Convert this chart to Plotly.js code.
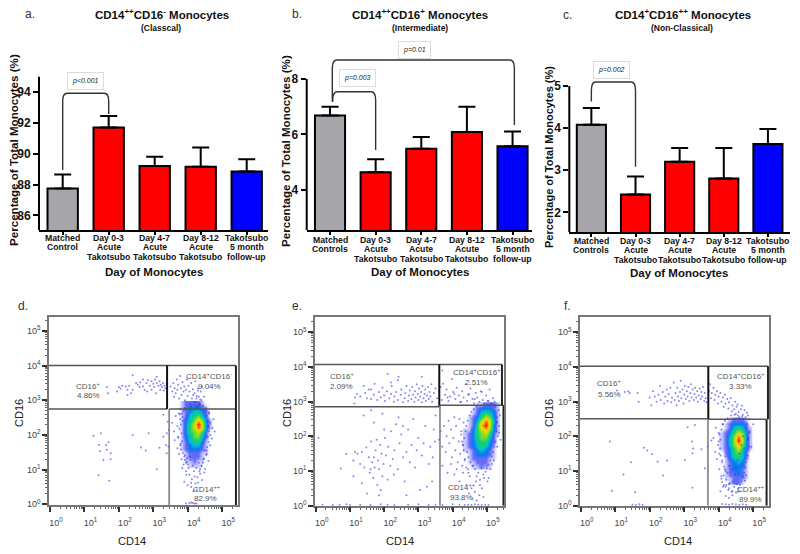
<!DOCTYPE html>
<html>
<head>
<meta charset="utf-8">
<script src="https://cdn.plot.ly/plotly-3.0.1.min.js"></script>
<style>body{margin:0;background:#fff}</style>
</head>
<body>
<div id="chart" style="width:800px;height:554px"></div>
<script>
// bar values and upper error lengths
const aValues = [87.75, 91.7, 89.2, 89.15, 88.85];
const aErrors = [0.9, 0.75, 0.6, 1.25, 0.8];
const bValues = [6.68, 4.63, 5.48, 6.08, 5.57];
const bErrors = [0.32, 0.47, 0.42, 0.92, 0.53];
const cValues = [4.08, 2.42, 3.2, 2.8, 3.62];
const cErrors = [0.4, 0.43, 0.33, 0.73, 0.36];
const barColors = ['#a5a5aa', '#ff0000', '#ff0000', '#ff0000', '#0000ff'];

const aCategories = [['Matched', 'Control'], ['Day 0-3', 'Acute', 'Takotsubo'], ['Day 4-7', 'Acute', 'Takotsubo'], ['Day 8-12', 'Acute', 'Takotsubo'], ['Takotsubo', '5 month', 'follow-up']];
const bCategories = [['Matched', 'Controls'], ['Day 0-3', 'Acute', 'Takotsubo'], ['Day 4-7', 'Acute', 'Takotsubo'], ['Day 8-12', 'Acute', 'Takotsubo'], ['Takotsubo', '5 month', 'follow-up']];

// flow cytometry, all in decades (log10 of the value)
const dBandX = [1.65,1.68,1.95,2.0,2.05,2.1,2.2,2.25,2.3,2.25,2.35,2.4,2.4,2.5,2.55,2.6,2.62,2.7,2.7,2.75,2.8,2.82,2.85,2.9,2.95,2.95,3.0,3.02,3.05,3.08,3.1,3.1,3.15,3.18,3.2,3.22,3.25,3.28,3.3,3.32,3.35,3.38,3.4,3.5,3.55,3.58,3.6,3.62,3.65,3.68,3.7,3.72,3.75,3.78,3.8,3.82,3.85,3.88,3.9,3.92,3.95,3.98,4.0,4.02,4.05,4.08,4.1,4.12,4.15,4.18,4.2,4.22,4.25,4.28,4.3,4.32,4.35,4.38,4.4,4.42,4.45,4.48,4.1,4.16,4.24,4.3,4.36,4.2,4.26,4.34];
const dBandY = [3.38,3.2,3.25,3.38,3.33,3.42,3.4,3.3,3.42,3.15,3.2,3.3,3.72,3.5,3.45,3.38,3.52,3.6,3.4,3.3,3.5,3.25,3.58,3.42,3.55,3.3,3.48,3.38,3.6,3.2,3.5,3.68,3.42,3.55,3.3,3.45,3.38,3.5,3.28,3.42,3.35,3.48,3.2,3.4,3.25,3.5,3.1,3.35,3.2,3.6,3.3,3.45,3.05,3.7,3.35,3.15,3.52,3.25,3.4,3.0,3.3,3.6,3.12,3.42,3.25,2.9,3.5,3.05,3.32,2.95,3.2,3.55,3.05,2.85,3.35,3.1,2.9,3.25,3.0,3.4,2.85,3.1,2.82,3.15,2.95,3.28,3.02,2.88,3.12,2.9];
const dSparseX = [1.26,1.48,1.42,1.70,1.63,1.45,1.65,1.76,1.55,1.76,1.41,1.72,2.40,2.86,2.64,2.78,3.10,3.18,3.29,3.39,3.37,3.29,3.42,3.45,3.44,3.39,3.55,3.6,3.62,3.65,3.7,3.72,3.78,3.8,3.85,3.7,3.75,3.82,3.88,3.92,3.95,3.98,4.02,4.05,4.08,4.12,4.15,4.18,4.22,4.25,4.28,4.32,4.36,4.4,4.45,4.5,4.55,4.6,4.65,4.7,4.72,4.75,4.78,4.62,4.55,4.48,4.42,3.78,3.84,3.9,3.96,4.0,4.06,4.1,4.16,4.2,4.26,4.3,4.34,4.1,4.2,4.05,4.15,4.25,3.95,4.1];
const dSparseY = [1.98,2.05,1.71,1.79,1.71,1.53,1.57,1.47,1.28,1.30,0.84,0.68,2.0,2.05,1.64,1.55,1.01,1.63,1.95,2.05,1.71,2.58,2.38,2.14,1.66,1.47,2.35,2.1,1.85,2.55,2.25,1.95,2.6,1.75,2.4,1.62,1.45,1.3,1.15,1.42,0.95,1.22,1.05,0.85,1.28,0.72,1.12,0.95,0.6,1.05,0.78,1.2,0.88,1.1,1.3,1.02,1.45,1.25,1.7,1.9,2.2,2.45,2.1,2.65,1.55,0.92,0.7,2.75,1.05,0.65,0.85,0.55,1.38,0.5,0.38,0.8,0.42,0.62,0.95,0.05,0.02,0.03,0.04,0.02,0.02,0.62];
const dEdgeX = [3.74,3.78,3.8,3.76,3.82,3.72,3.84,3.78,3.8,3.86,3.88,3.9,3.85,3.92,3.95,3.9,4.0,3.98,4.52,4.55,4.58,4.6,4.62,4.58,4.65,4.6,4.56,4.5,4.54,4.48,4.44,4.4,4.36,4.62,4.66,4.52,3.84,3.92,4.28,4.34];
const dEdgeY = [2.62,2.45,2.3,2.18,2.05,1.92,1.82,1.7,1.58,1.48,2.7,1.38,2.52,1.28,1.2,2.78,1.15,1.32,2.7,2.55,2.4,2.25,2.1,1.95,2.35,1.8,1.65,1.55,1.42,1.32,1.2,1.12,1.02,2.62,2.0,2.78,2.62,2.74,2.8,2.86];
const dCoreX = [3.7,3.82,3.94,4.06,4.18,4.3,4.42,4.54,4.66];
const dCoreY = [2.92,2.8,2.68,2.56,2.44,2.32,2.2,2.08,1.96,1.84,1.72,1.6,1.48,1.36,1.24,1.12];
const dCoreZ = [
  [0,1,2,2,2,2,1,0,0],[0,1,2,3,3,3,2,1,0],[0,1,2,3,4,4,3,2,0],[0,1,2,4,5,6,4,2,0],
  [0,1,3,4,6,8,6,3,1],[0,1,3,5,7,10,7,3,1],[0,1,3,5,7,9,7,3,1],[0,1,3,5,6,7,5,2,0],
  [0,1,3,4,6,6,4,2,0],[0,1,2,4,5,5,3,1,0],[0,1,2,3,4,4,2,1,0],[0,1,2,3,3,3,2,1,0],
  [0,0,1,2,2,2,1,1,0],[0,0,1,2,2,2,1,0,0],[0,0,1,1,2,1,1,0,0],[0,0,0,1,1,1,0,0,0]
];

const eBandX = [1.13,1.15,1.2,1.3,1.4,1.45,1.5,1.55,1.62,1.7,1.72,1.8,1.85,1.9,1.95,2.0,2.02,2.08,2.1,2.15,2.2,2.22,2.28,2.3,2.35,2.4,2.42,2.48,2.5,2.55,2.6,2.62,2.65,2.7,2.72,2.75,2.8,2.82,2.85,2.88,2.9,2.92,2.95,2.98,3.0,3.02,3.05,3.08,3.1,3.12,3.15,3.18,3.2,3.22,3.25,3.28,3.3,3.32,3.35,3.38,3.4,3.45,3.5,3.55,3.6,3.68,3.72,3.78,3.82,3.88,3.92,3.98,4.02,4.08,4.12,4.18,4.22,4.28,4.32,4.38,4.42,4.48,4.52,4.58,4.62,4.68,4.72,4.78,4.82,4.88,4.92,4.98,5.02,5.08,5.12,5.18,5.22,3.65,3.85,4.05,4.25,4.45,4.65,4.85,5.05,2.4,1.62,2.2,3.1,3.7];
const eBandY = [2.95,3.12,3.22,3.15,3.45,3.25,3.1,3.35,3.08,3.2,3.52,3.05,3.28,3.12,3.4,3.18,3.02,3.3,3.8,3.1,3.22,3.45,3.0,3.15,3.28,3.05,3.72,3.2,3.35,2.98,3.1,3.25,3.45,3.02,3.18,3.32,3.08,3.42,3.2,3.0,3.3,3.12,3.5,3.22,3.05,3.38,3.15,3.28,2.98,3.45,3.1,3.22,3.35,3.02,3.18,3.42,3.08,3.28,3.15,3.5,3.0,3.25,3.38,3.1,3.3,3.05,3.52,3.2,3.35,3.02,3.15,3.65,3.28,3.08,3.4,3.18,2.98,3.3,3.12,3.5,3.02,3.22,3.38,3.08,2.95,3.25,3.12,3.0,3.3,3.05,2.95,3.18,3.02,3.35,2.95,3.1,3.0,3.42,3.12,3.22,3.0,3.2,3.08,3.28,3.02,3.62,3.35,3.55,3.72,3.9];
const eSparseX = [0.08,0.73,0.89,1.1,1.15,1.22,1.3,1.35,1.42,1.48,1.5,1.55,1.58,1.6,1.62,1.65,1.68,1.7,1.72,1.75,1.78,1.8,1.82,1.85,1.88,1.9,1.92,1.95,1.98,2.02,2.05,2.1,2.12,2.18,2.2,2.25,2.28,2.3,2.35,2.4,2.45,2.5,2.55,2.6,2.65,2.7,2.75,2.8,2.85,2.9,2.95,3.0,3.05,3.1,3.15,3.2,3.25,3.3,3.35,3.4,3.42,3.48,3.5,1.4,1.62,1.7,1.95,2.0,2.42,2.55,3.45,1.1,1.35,1.85,2.65,3.6,3.65,3.7,3.75,3.8,3.82,3.88,3.9,3.95,3.98,4.02,4.05,4.08,4.1,4.15,4.18,4.2,4.22,4.25,4.28,4.3,4.32,3.7,3.85,3.95,4.05,4.12,4.2,4.3,4.35,4.4,4.45,4.48,4.5,4.55,4.58,4.6,4.65,4.68,4.7,4.75,4.78,4.8,4.85,4.9,5.0,5.05,5.3,5.35,5.38,5.4,5.3,5.2,5.1,0.2,0.5,0.7,0.9,1.0,1.3,1.6,1.9,2.1,2.3,2.7,3.0,3.3,3.5,3.7,4.0,4.2,4.35,4.45,4.55,4.65,4.75,4.85,4.95,5.05];
const eSparseY = [1.95,1.07,1.49,1.3,1.55,1.5,1.2,1.55,1.1,1.68,0.35,1.4,0.95,1.05,1.85,1.25,0.8,1.4,1.1,1.6,1.9,0.6,1.3,1.05,1.75,0.45,1.5,0.85,1.2,1.95,1.45,0.75,1.7,1.15,2.15,1.35,0.9,1.6,2.35,1.05,1.8,2.05,1.4,0.7,1.55,2.2,1.25,1.75,2.5,1.1,1.6,1.95,0.45,1.45,1.8,2.3,0.55,1.2,1.7,0.7,1.4,1.85,2.6,2.6,2.75,2.4,2.65,2.2,2.55,2.3,2.2,0.85,0.65,0.3,0.3,1.9,2.15,1.7,2.3,1.55,2.0,2.45,1.8,2.2,1.4,1.95,2.55,1.6,2.3,1.25,1.85,2.5,1.5,2.15,1.15,1.75,2.4,1.15,0.95,1.2,0.9,1.05,0.7,0.95,1.3,0.6,1.05,0.35,0.85,0.5,0.2,1.15,0.4,0.7,0.15,0.95,0.3,0.6,0.5,0.25,1.15,0.8,2.4,2.1,2.6,1.9,1.7,1.3,1.05,0.03,0.02,0.03,0.04,0.02,0.03,0.02,0.04,0.03,0.02,0.03,0.04,0.02,0.03,0.02,0.04,0.03,0.02,0.03,0.02,0.04,0.03,0.02,0.03,0.02];
const eEdgeX = [4.3,4.34,4.38,4.4,4.42,4.44,4.46,4.5,4.52,4.55,4.58,4.62,4.66,4.7,4.36,4.32,4.28,4.25,4.4,4.46,5.34,5.3,5.36,5.28,5.32,5.25,5.22,5.18,5.14,5.1,5.05,5.0,4.96,4.9,5.25,5.15,4.7,4.8,4.92,5.02];
const eEdgeY = [1.75,1.95,2.15,2.3,1.55,2.45,1.4,2.6,1.25,2.7,1.15,2.78,1.05,2.85,1.35,1.6,1.85,2.05,1.1,0.95,2.75,2.55,2.3,2.15,2.0,1.85,1.7,1.55,1.42,1.3,1.18,1.08,0.98,0.9,2.85,1.2,0.85,0.75,0.8,0.7];
const eCoreX = [4.36,4.48,4.6,4.72,4.84,4.96,5.08,5.2,5.32];
const eCoreY = [2.92,2.8,2.68,2.56,2.44,2.32,2.2,2.08,1.96,1.84,1.72,1.6,1.48,1.36,1.24,1.12];
const eCoreZ = [
  [0,0,0,1,1,2,2,2,1],[0,0,1,2,3,3,3,2,1],[0,0,1,2,4,5,4,3,1],[0,1,2,3,5,7,6,3,1],
  [0,1,2,4,7,9,7,4,1],[0,1,2,5,8,10,7,3,1],[1,1,3,5,7,8,6,3,1],[1,2,3,5,6,7,5,2,1],
  [1,2,3,5,6,6,4,2,0],[1,2,3,4,5,5,3,2,0],[1,2,3,4,5,4,3,1,0],[1,1,2,3,4,3,2,1,0],
  [0,1,2,3,3,3,2,1,0],[0,1,2,2,2,2,1,1,0],[0,1,1,2,2,2,1,0,0],[0,0,1,1,2,1,1,0,0]
];

const fBandX = [1.05,1.28,1.38,1.42,1.65,1.68,2.0,2.05,2.1,2.15,2.2,2.25,2.3,2.32,2.38,2.42,2.45,2.5,2.52,2.55,2.6,2.62,2.65,2.7,2.72,2.75,2.78,2.8,2.82,2.85,2.88,2.9,2.92,2.95,2.98,3.0,3.02,3.05,3.08,3.1,3.12,3.15,3.18,3.2,3.22,3.25,3.28,3.3,3.32,3.35,3.38,3.4,3.42,3.45,3.48,3.5,3.52,3.55,3.58,3.6,3.62,3.65,3.72,3.75,3.78,3.8,3.85,3.88,3.9,3.95,3.98,4.0,4.05,4.08,4.12,4.15,4.18,4.2,4.25,4.28,4.3,4.35,4.38,4.4,4.45,4.48,4.5,4.52,4.55,4.58,4.6,4.65,4.68,4.7,4.75,4.78,4.82,4.85,4.9];
const fBandY = [3.32,3.28,3.3,3.25,3.25,3.0,3.12,2.9,3.3,3.15,3.0,3.2,3.45,3.05,3.28,2.95,3.15,3.35,3.02,3.22,3.4,2.98,3.12,3.55,3.05,3.25,2.9,3.4,3.15,3.02,3.28,3.6,3.1,3.35,2.95,3.2,3.45,3.08,3.3,3.15,3.42,3.02,3.25,3.5,3.12,3.35,3.05,3.22,3.4,3.12,3.3,3.0,3.18,3.38,3.08,3.28,3.15,3.42,3.02,3.25,3.1,2.98,3.3,3.5,3.1,3.25,3.4,3.05,3.2,3.3,2.95,3.15,3.25,3.0,3.12,2.85,3.2,2.95,3.08,2.8,2.98,3.1,2.72,2.9,2.78,3.0,2.65,2.85,2.92,2.7,2.55,2.78,2.88,2.62,2.75,2.55,2.68,2.6,2.5];
const fSparseX = [0.85,1.83,1.93,2.07,1.46,1.24,0.9,1.58,2.23,2.5,2.39,3.02,3.23,3.26,3.24,3.31,3.1,3.5,3.6,3.24,3.68,3.79,4.13,3.85,3.9,3.92,3.95,3.98,4.0,4.02,4.02,4.05,4.08,4.1,4.12,4.15,4.18,4.2,4.22,4.25,4.28,4.3,4.32,4.35,4.38,4.4,4.42,4.45,4.48,4.5,4.52,4.55,4.6,4.65,4.7,4.75,4.8,4.85,4.9,4.95,5.0,4.4,4.3,4.55,4.2,4.05,1.5,1.6,1.7,1.8,4.1,4.2,4.3,4.4,4.5,4.6,4.7,4.8];
const fSparseY = [1.85,1.67,1.59,1.49,1.25,0.9,0.43,0.39,1.27,1.3,0.87,1.32,1.85,1.65,1.51,2.33,2.26,1.63,1.08,0.52,1.7,1.88,0.55,1.95,1.55,2.25,1.35,1.75,2.1,1.05,1.5,1.9,0.85,1.25,2.35,0.6,1.05,1.42,0.75,0.95,0.45,1.15,0.65,0.85,0.4,1.05,0.7,0.55,0.9,1.1,0.62,1.3,1.5,1.75,2.0,1.65,2.25,1.9,2.1,1.7,2.35,0.3,0.22,0.4,0.28,0.42,0.03,0.02,0.04,0.03,0.05,0.04,0.03,0.05,0.04,0.03,0.04,0.03];
const fEdgeX = [4.04,4.0,4.02,4.06,4.08,4.1,4.12,4.16,4.2,4.18,4.14,4.08,4.1,4.22,4.26,4.8,4.84,4.88,4.86,4.9,4.82,4.78,4.74,4.7,4.72,4.66,4.62,4.68,4.58,4.3,4.76,4.8,4.4,4.5,4.6,4.36,4.46,4.56,4.3,4.2];
const fEdgeY = [1.65,1.85,2.05,1.45,2.2,1.3,2.35,1.12,1.0,2.45,0.88,0.78,0.68,0.6,2.52,1.25,1.45,1.7,1.95,2.15,2.35,1.1,0.95,0.85,2.5,0.7,0.6,2.58,0.5,0.5,0.72,0.88,0.42,0.38,0.42,2.6,2.62,2.6,0.62,0.55];
const fCoreX = [4.08,4.2,4.32,4.44,4.56,4.68,4.8,4.92];
const fCoreY = [2.48,2.36,2.24,2.12,2.0,1.88,1.76,1.64,1.52,1.4,1.28,1.16,1.04,0.92,0.8,0.68];
const fCoreZ = [
  [0,0,1,2,2,2,1,0],[0,1,2,3,3,3,2,0],[0,1,2,4,5,4,2,1],[1,2,3,5,7,6,3,1],
  [1,2,4,6,9,7,3,1],[1,2,4,6,10,7,3,1],[1,2,4,6,8,6,3,1],[1,2,3,5,7,5,3,1],
  [0,2,3,5,6,4,2,0],[0,1,3,4,5,4,2,0],[0,1,2,3,4,3,1,0],[0,1,2,3,3,3,1,0],
  [0,1,2,3,3,2,1,0],[0,1,2,2,3,2,1,0],[0,1,1,2,2,2,1,0],[0,0,1,2,2,1,0,0]
];

const decades = [0, 1, 2, 3, 4, 5];
const decadeLabels = decades.map(d => '10<sup>' + d + '</sup>');
const densityScale = [
  [0, 'rgba(255,255,255,0)'], [0.1, 'rgba(130,135,250,0.45)'], [0.2, 'rgba(60,70,245,0.8)'], [0.3, '#0a78f0'],
  [0.4, '#00c0d8'], [0.5, '#10d070'], [0.65, '#a0e020'], [0.78, '#ffd800'], [0.9, '#ff6a00'], [1, '#f01808']
];
const barFont = 'Liberation Sans, Arial, sans-serif';

// px helpers, everything else is placed on the 800x554 page
const px = x => x / 800;
const py = y => 1 - y / 554;
const pow10 = v => Math.pow(10, v);

const traces = [];
const shapes = [];
const annotations = [];
const layout = {
  width: 800, height: 554,
  margin: { l: 0, r: 0, t: 0, b: 0 },
  paper_bgcolor: '#fff', plot_bgcolor: 'rgba(0,0,0,0)',
  font: { family: barFont, color: '#111' },
  showlegend: false,
  shapes, annotations
};

function note(x, y, text, size, opts) {
  annotations.push(Object.assign({
    xref: 'paper', yref: 'paper', x: px(x), y: py(y), text,
    showarrow: false, xanchor: 'center', yanchor: 'middle',
    font: { size, color: '#111', family: barFont }
  }, opts || {}));
}

function bracket(n, x0, y0, x1, y1, top, rx, ry) {
  shapes.push({
    type: 'path', xref: 'x' + n, yref: 'y' + n,
    path: `M ${x0},${y0} L ${x0},${top - ry} Q ${x0},${top} ${x0 + rx},${top} L ${x1 - rx},${top} Q ${x1},${top} ${x1},${top - ry} L ${x1},${y1}`,
    line: { color: '#333', width: 1.4 }
  });
}

function pValue(n, x, y, text) {
  annotations.push({
    xref: 'x' + n, yref: 'y' + n, x, y, text: '<i>' + text + '</i>', showarrow: false,
    font: { size: 7, color: '#222', family: barFont },
    bordercolor: '#dcdcdc', borderwidth: 1, borderpad: 4, bgcolor: '#fff'
  });
}

function barPanel(n, cfg) {
  traces.push({
    type: 'bar', x: [0, 1, 2, 3, 4], y: cfg.values, width: 0.66,
    xaxis: 'x' + n, yaxis: 'y' + n, hoverinfo: 'skip',
    marker: { color: barColors, line: { color: '#000', width: 2 } },
    error_y: { type: 'data', symmetric: false, array: cfg.errors, arrayminus: [0, 0, 0, 0, 0], color: '#000', thickness: 2, width: 8.5 }
  });
  layout['xaxis' + n] = {
    domain: [px(cfg.left), px(cfg.right)], range: cfg.xRange, anchor: 'y' + n,
    showgrid: false, zeroline: false, showline: true, linecolor: '#000', linewidth: 2,
    tickvals: [0, 1, 2, 3, 4], ticks: 'outside', ticklen: 3, tickwidth: 2, tickcolor: '#000', showticklabels: false
  };
  layout['yaxis' + n] = {
    domain: [py(cfg.bottom), py(45)], range: cfg.yRange, anchor: 'x' + n,
    showgrid: false, zeroline: false, showline: false,
    tickvals: cfg.yTicks, ticks: 'outside', ticklen: 5, tickwidth: 2, tickcolor: '#000',
    tickfont: { size: 12, family: barFont, weight: 'bold', color: '#111' }
  };
  // y axis stops at the top tick, the range above it only holds the brackets
  shapes.push({ type: 'line', xref: 'x' + n + ' domain', yref: 'y' + n, x0: 0, x1: 0, y0: cfg.yRange[0], y1: cfg.spineTop, line: { color: '#000', width: 2 } });

  cfg.categories.forEach((lines, i) => {
    lines.forEach((line, j) => {
      annotations.push({
        xref: 'x' + n, yref: 'paper', x: i + cfg.labelShift, y: py(cfg.labelTop + j * 9.4), text: line,
        showarrow: false, yanchor: 'middle', font: { size: 8.7, family: barFont, weight: 'bold', color: '#111' }
      });
    });
  });
  note(cfg.titleX, cfg.xTitleY, 'Day of Monocytes', 11.5, { font: { size: 11.5, family: barFont, weight: 'bold', color: '#111' } });
  note(cfg.yTitleX, cfg.yTitleY, 'Percentage of Total Monocytes (%)', cfg.yTitleSize, {
    textangle: -90, font: { size: cfg.yTitleSize, family: barFont, weight: 'bold', color: '#111' }
  });
}

function flowPanel(n, cfg) {
  traces.push({
    type: 'scatter', mode: 'markers', xaxis: 'x' + n, yaxis: 'y' + n, hoverinfo: 'skip',
    x: cfg.dotsX.map(pow10), y: cfg.dotsY.map(pow10),
    marker: { size: 2, color: '#3434f2', opacity: 0.6 }
  });
  traces.push({
    type: 'heatmap', xaxis: 'x' + n, yaxis: 'y' + n, hoverinfo: 'skip', showscale: false,
    x: cfg.coreX.map(pow10), y: cfg.coreY.map(pow10), z: cfg.coreZ,
    zmin: 0, zmax: 10, zsmooth: 'best', colorscale: densityScale
  });
  const minorVals = [];
  decades.forEach(d => [2, 3, 4, 5, 6, 7, 8, 9].forEach(m => minorVals.push(m * pow10(d))));
  const common = {
    type: 'log', showgrid: false, zeroline: false, showline: true, mirror: true, linecolor: '#777', linewidth: 1.5,
    tickmode: 'array', tickvals: decades.map(pow10), ticktext: decadeLabels,
    ticks: 'outside', ticklen: 5, tickwidth: 1.5, tickcolor: '#333',
    tickfont: { size: 9, color: '#444', family: barFont },
    minor: { ticks: 'outside', ticklen: 2.5, tickwidth: 1, tickcolor: '#666', tickmode: 'array', tickvals: minorVals, showgrid: false }
  };
  layout['xaxis' + n] = Object.assign({}, common, {
    domain: [px(cfg.left), px(cfg.left + 189)], range: cfg.xRange, anchor: 'y' + n,
    ticklabelshift: 6, ticklabelstandoff: 3
  });
  layout['yaxis' + n] = Object.assign({}, common, {
    domain: [py(cfg.bottom), py(316.7)], range: cfg.yRange, anchor: 'x' + n
  });

  const g = cfg.gate;
  const seg = (x0, y0, x1, y1, color, width) => shapes.push({
    type: 'line', xref: 'x' + n, yref: 'y' + n, x0: pow10(x0), y0: pow10(y0), x1: pow10(x1), y1: pow10(y1), line: { color, width }
  });
  seg(cfg.xRange[0], g.top, g.rightUp, g.top, '#555', 1.5);
  seg(cfg.xRange[0], g.mid, g.vertUp, g.mid, '#555', 1.5);
  seg(g.vertLow, g.midRight, g.rightLow, g.midRight, '#555', 1.5);
  seg(g.vertUp, g.mid, g.vertUp, g.top, '#111', 2);
  seg(g.vertLow, cfg.yRange[0], g.vertLow, g.midRight, '#777', 1.5);
  seg(g.rightUp, g.midRight, g.rightUp, g.top, '#222', 2);
  seg(g.rightLow, cfg.yRange[0], g.rightLow, g.midRight, '#222', 2);

  cfg.labels.forEach(l => note(l[0], l[1], l[2], 8, { font: { size: 8, color: '#555', family: barFont } }));
  note(cfg.cd14X, 540.5, 'CD14', 11, { font: { size: 11, color: '#222', family: barFont } });
  note(cfg.cd16X, 413, 'CD16', 11, { textangle: -90, font: { size: 11, color: '#222', family: barFont } });
}

barPanel('', {
  values: aValues, errors: aErrors, categories: aCategories, left: 39, right: 268, bottom: 230,
  xRange: [-0.515, 4.463], yRange: [85.05, 97.06], yTicks: [86, 88, 90, 92, 94], spineTop: 95, labelShift: 0,
  labelTop: 238, titleX: 154, xTitleY: 272, yTitleX: 13, yTitleY: 150, yTitleSize: 11.6
});
barPanel(2, {
  values: bValues, errors: bErrors, categories: bCategories, left: 306.7, right: 531.7, bottom: 230.3,
  xRange: [-0.511, 4.42], yRange: [2.53, 9.23], yTicks: [4, 6, 8], spineTop: 8, labelShift: 0,
  labelTop: 240, titleX: 420, xTitleY: 272, yTitleX: 285, yTitleY: 151, yTitleSize: 11.6
});
barPanel(3, {
  values: cValues, errors: cErrors, categories: bCategories, left: 569.3, right: 790, bottom: 232.3,
  xRange: [-0.5, 4.5], yRange: [1.525, 5.974], yTicks: [2, 3, 4, 5], spineTop: 5, labelShift: 0,
  labelTop: 241, titleX: 679, xTitleY: 273, yTitleX: 549, yTitleY: 157, yTitleSize: 11
});

bracket('', 0, 88.94, 1, 92.58, 93.93, 0.1, 0.5);
bracket(2, 0.06, 7.18, 1, 5.43, 7.54, 0.1, 0.3);
bracket(2, 0.05, 7.18, 4.04, 6.34, 8.69, 0.1, 0.3);
bracket(3, 0, 4.63, 1, 3.08, 5.095, 0.1, 0.2);
pValue('', 0.5, 94.75, 'p&lt;0.001');
pValue(2, 0.6, 8.02, 'p=0.003');
pValue(2, 1.85, 9.05, 'p=0.01');
pValue(3, 0.46, 5.38, 'p=0.002');

flowPanel(4, {
  dotsX: dBandX.concat(dSparseX, dEdgeX), dotsY: dBandY.concat(dSparseY, dEdgeY), coreX: dCoreX, coreY: dCoreY, coreZ: dCoreZ,
  left: 49, bottom: 505, xRange: [-0.03, 5.46], yRange: [-0.02, 5.41],
  gate: { top: 4.0, mid: 2.75, midRight: 2.75, vertUp: 3.4, vertLow: 3.46, rightUp: 5.4, rightLow: 5.4 },
  labels: [[88, 385.7, 'CD16<sup>+</sup>'], [88, 395.3, '4.86%'], [209, 376, 'CD14<sup>+</sup>CD16<sup>-</sup>'], [209, 386, '9.04%'], [206.7, 488.7, 'CD14<sup>++</sup>'], [205.7, 498.7, '82.9%']],
  cd14X: 131.7, cd16X: 19
});
flowPanel(5, {
  dotsX: eBandX.concat(eSparseX, eEdgeX), dotsY: eBandY.concat(eSparseY, eEdgeY), coreX: eCoreX, coreY: eCoreY, coreZ: eCoreZ,
  left: 315, bottom: 505.7, xRange: [-0.02, 5.5], yRange: [0, 5.45],
  gate: { top: 4.07, mid: 2.855, midRight: 2.9, vertUp: 3.61, vertLow: 3.63, rightUp: 5.44, rightLow: 5.485 },
  labels: [[341.7, 376, 'CD16<sup>+</sup>'], [341.7, 386, '2.09%'], [476.7, 371.7, 'CD14<sup>+</sup>CD16<sup>+</sup>'], [476.7, 382, '2.51%'], [461.7, 487.3, 'CD14<sup>++</sup>'], [461.7, 497.3, '93.8%']],
  cd14X: 400, cd16X: 287
});
flowPanel(6, {
  dotsX: fBandX.concat(fSparseX, fEdgeX), dotsY: fBandY.concat(fSparseY, fEdgeY), coreX: fCoreX, coreY: fCoreY, coreZ: fCoreZ,
  left: 580, bottom: 505.7, xRange: [-0.02, 5.46], yRange: [0, 5.45],
  gate: { top: 4.02, mid: 2.51, midRight: 2.49, vertUp: 3.7, vertLow: 3.69, rightUp: 5.43, rightLow: 5.39 },
  labels: [[609.3, 382.7, 'CD16<sup>+</sup>'], [609.3, 394, '5.56%'], [740, 376, 'CD14<sup>+</sup>CD16<sup>+</sup>'], [740, 386, '3.33%'], [750.7, 489.3, 'CD14<sup>++</sup>'], [750.7, 499.3, '89.9%']],
  cd14X: 677.7, cd16X: 549
});

// panel letters and headings
const boldTitle = size => ({ font: { size, family: barFont, weight: 'bold', color: '#111' } });
note(30, 14, 'a.', 12, { font: { size: 12, color: '#333', family: barFont } });
note(297, 14, 'b.', 12, { font: { size: 12, color: '#333', family: barFont } });
note(567, 15, 'c.', 12, { font: { size: 12, color: '#333', family: barFont } });
note(23, 306, 'd.', 12, { font: { size: 12, color: '#333', family: barFont } });
note(297, 306, 'e.', 12, { font: { size: 12, color: '#333', family: barFont } });
note(567, 306, 'f.', 12, { font: { size: 12, color: '#333', family: barFont } });
note(161.7, 14, 'CD14<sup>++</sup>CD16<sup>-</sup> Monocytes', 11.5, boldTitle(11.5));
note(161, 28, '(Classcal)', 8.5, boldTitle(8.5));
note(420, 14, 'CD14<sup>++</sup>CD16<sup>+</sup> Monocytes', 11.5, boldTitle(11.5));
note(420, 28, '(Intermediate)', 8.5, boldTitle(8.5));
note(682.7, 14, 'CD14<sup>+</sup>CD16<sup>++</sup> Monocytes', 11.5, boldTitle(11.5));
note(682, 28, '(Non-Classical)', 8.5, boldTitle(8.5));

Plotly.newPlot('chart', traces, layout, { displayModeBar: false, responsive: false });
</script>
</body>
</html>
